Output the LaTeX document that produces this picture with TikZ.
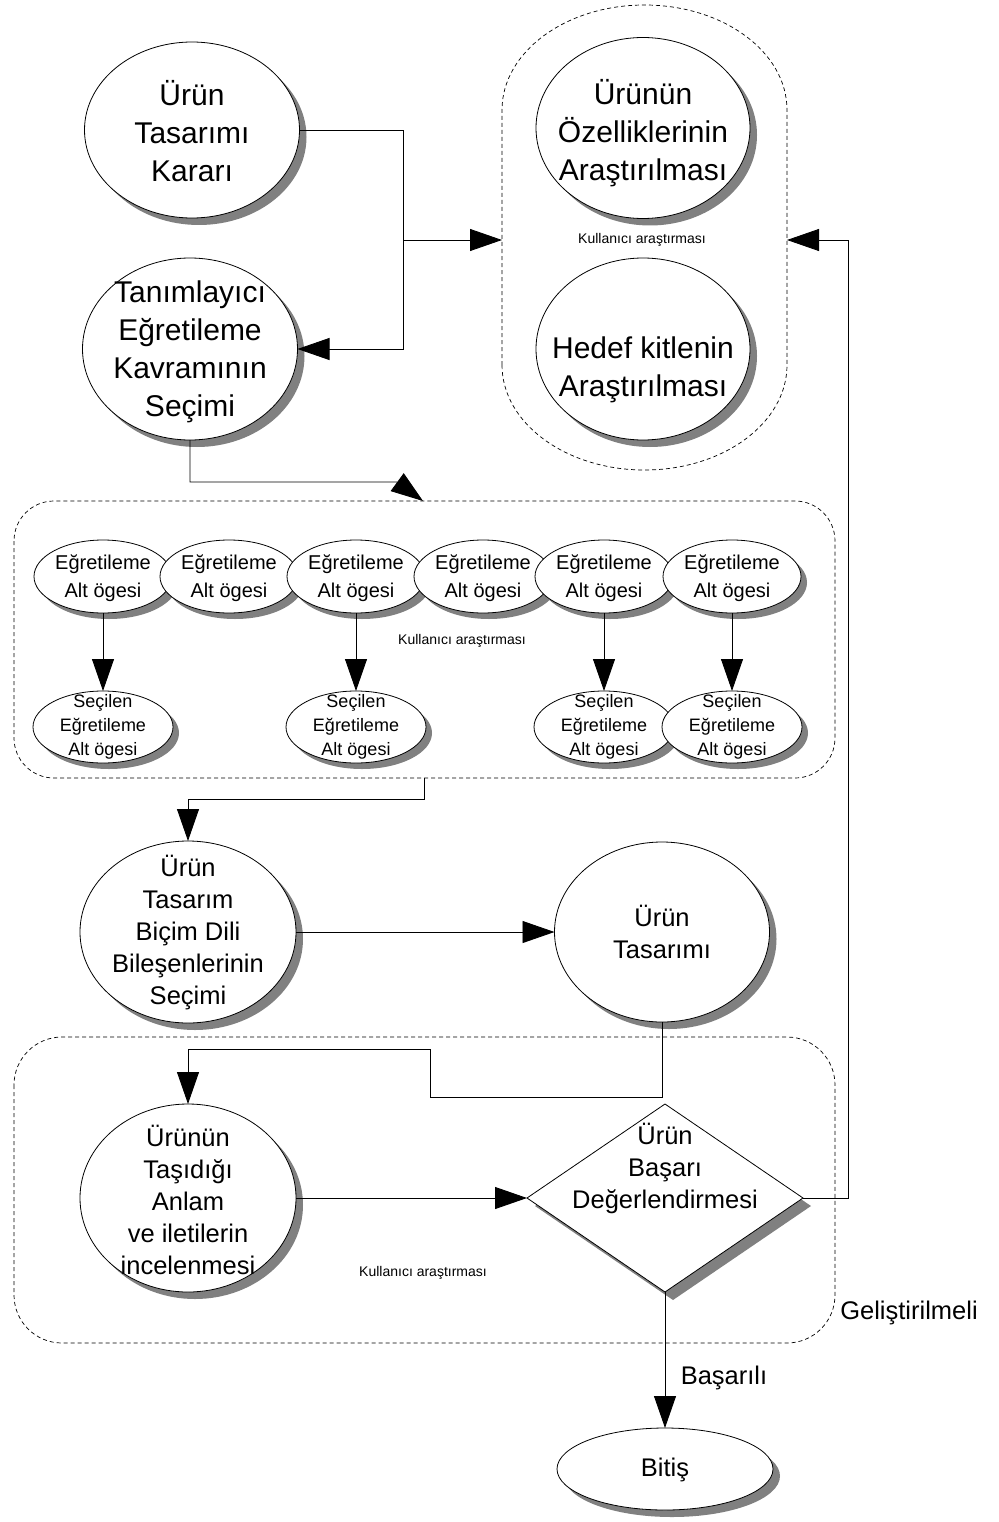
\documentclass[tikz,border=0pt]{standalone}
\usepackage{fontspec}
\setmainfont{Liberation Sans}
\usetikzlibrary{shapes.geometric,shadows,arrows.meta}
\begin{document}
\begin{tikzpicture}[x=1pt,y=-1pt,
  every node/.style={inner sep=0pt,outer sep=0pt},
  conn/.style={line width=0.9pt,draw=black},
  arr/.style={conn,-{Triangle[length=32pt,width=22pt]}},
  shadowed/.style={drop shadow={shadow xshift=#1,shadow yshift=-#1,fill=black!50,opacity=1}},
  shadowed/.default=7pt,
  bubble/.style={ellipse,draw=black,line width=0.8pt,fill=white,shadowed},
  smallbubble/.style={ellipse,draw=black,line width=0.8pt,fill=white,shadowed=6pt},
  grp/.style={draw=black,line width=0.7pt,dash pattern=on 4pt off 3pt},
  bigtxt/.style={align=center,font=\fontsize{30pt}{38pt}\selectfont},
  midtxt/.style={align=center,font=\fontsize{25.5pt}{32pt}\selectfont},
  rowtxt/.style={align=center,font=\fontsize{20pt}{28pt}\selectfont},
  subtxt/.style={align=center,font=\fontsize{18pt}{24pt}\selectfont},
  note/.style={font=\fontsize{14pt}{16pt}\selectfont},
]
\useasboundingbox (0,0) rectangle (998,1522);
\fill[white] (0,0) rectangle (998,1522);

% --- research group (pill shaped) ---
\draw[grp] (502,365) -- (502,110)
  arc[start angle=180,end angle=0,x radius=142.5pt,y radius=105pt]
  -- (787,365)
  arc[start angle=0,end angle=-180,x radius=142.5pt,y radius=105pt] -- cycle;
\coordinate (g1w) at (502,240);
\coordinate (g1e) at (787,240);
\node[note] (n1) at (642,240) {Kullanıcı araştırması};

% --- sub-element group ---
\draw[grp,rounded corners=40pt] (14,501) rectangle (835,778);
\coordinate (g2n) at (423,501);
\coordinate (g2s) at (424,778);
\node[note] (n2) at (462,641) {Kullanıcı araştırması};

% --- evaluation group ---
\draw[grp,rounded corners=48pt] (14,1037) rectangle (835,1343);
\node[note] (n3) at (423,1273) {Kullanıcı araştırması};

% --- top ellipses ---
\node[bubble,minimum width=215pt,minimum height=176pt] (A) at (192,130) {};
\node[bigtxt] (At) at (192,131) {Ürün\\Tasarımı\\Kararı};
\node[bubble,minimum width=215pt,minimum height=182pt] (B) at (190,349) {};
\node[bigtxt] (Bt) at (190,352) {Tanımlayıcı\\Eğretileme\\Kavramının\\Seçimi};
\node[bubble,minimum width=214pt,minimum height=181pt] (C) at (643,128) {};
\node[bigtxt] (Ct) at (643,133) {Ürünün\\Özelliklerinin\\Araştırılması};
\node[bubble,minimum width=214pt,minimum height=182pt] (D) at (643,349) {};
\node[bigtxt] (Dt) at (643,370) {Hedef kitlenin\\Araştırılması};

% --- sub-element rows ---
\foreach \i/\x in {1/103,2/229,3/356,4/483,5/604,6/732}{
  \node[smallbubble,minimum width=138pt,minimum height=73pt] (r\i) at (\x,576.5) {};
  \node[rowtxt] (rt\i) at (\x,578) {Eğretileme\\Alt ögesi};
}
\foreach \i/\x in {1/103,3/356,5/604,6/732}{
  \node[smallbubble,minimum width=140pt,minimum height=72pt] (s\i) at (\x,727) {};
  \node[subtxt] (st\i) at (\x,727) {Seçilen\\Eğretileme\\Alt ögesi};
}

% --- design ellipses ---
\node[bubble,minimum width=216pt,minimum height=182pt] (E) at (188,932) {};
\node[midtxt] (Et) at (188,933) {Ürün\\Tasarım\\Biçim Dili\\Bileşenlerinin\\Seçimi};
\node[bubble,minimum width=215pt,minimum height=180pt] (F) at (662,932) {};
\node[midtxt] (Ft) at (662,932) {Ürün\\Tasarımı};
\node[bubble,minimum width=216pt,minimum height=188pt] (G) at (188,1198) {};
\node[midtxt] (Gt) at (188,1200) {Ürünün\\Taşıdığı\\Anlam\\ve iletilerin\\incelenmesi};

% --- decision and end ---
\node[diamond,draw=black,line width=0.8pt,fill=white,shadowed=8pt,
      minimum width=276pt,minimum height=188pt] (Q) at (665,1198) {};
\node[midtxt] (Qt) at (665,1168) {Ürün\\Başarı\\Değerlendirmesi};
\node[bubble,minimum width=216pt,minimum height=82pt] (Z) at (665,1469) {};
\node[midtxt] (Zt) at (665,1470) {Bitiş};

\node[midtxt] (L1) at (909,1313) {Geliştirilmeli};
\node[midtxt] (L2) at (724,1378) {Başarılı};

% --- connectors ---
\coordinate (j1) at (403,240);
\draw[conn] (A.east) -| (j1);
\draw[arr] (j1) -- (g1w);
\draw[arr] (j1) |- (B.east);

\coordinate (k1) at (397,482);
\draw[arr] (B.south) |- (k1) -- (g2n);

\foreach \i in {1,3,5,6}{
  \draw[arr] (r\i.south) -- (s\i.north);
}

\coordinate (k2) at (424,799);
\draw[arr] (g2s) -- (k2) -| (E.north);
\draw[arr] (E.east) -- (F.west);

\coordinate (m1) at (430,1097);
\coordinate (m2) at (188,1049);
\draw[arr] (F.south) |- (m1) |- (m2) -- (G.north);
\draw[arr] (G.east) -- (Q.west);

\coordinate (p1) at (848,240);
\draw[arr] (Q.east) -| (p1) -- (g1e);
\draw[arr] (Q.south) -- (Z.north);
\end{tikzpicture}
\end{document}
